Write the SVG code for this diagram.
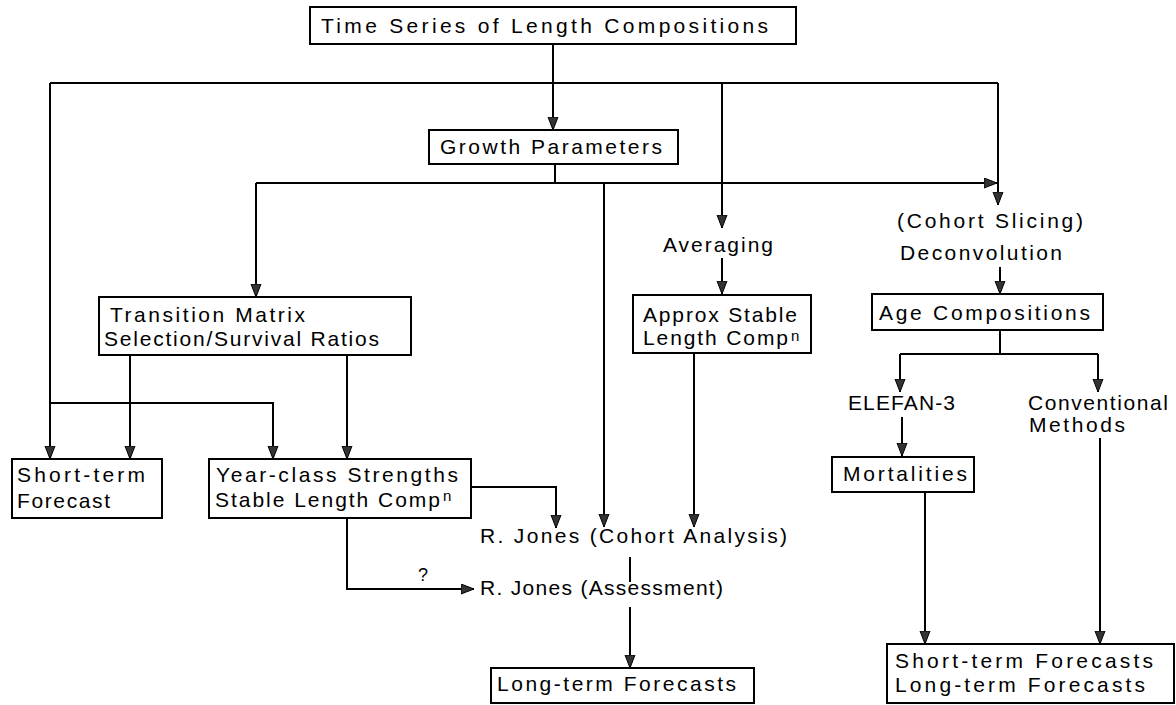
<svg xmlns="http://www.w3.org/2000/svg" width="1176" height="705" viewBox="0 0 1176 705">
<style>
.box{fill:#fff;stroke:#000;stroke-width:2}
.t{font-family:"Liberation Sans",Arial,sans-serif;font-size:21px;fill:#000}
.sup{font-family:"Liberation Sans",Arial,sans-serif;font-size:15px;fill:#000}
.q{font-family:"Liberation Sans",Arial,sans-serif;font-size:18px;fill:#000}
.c{fill:none;stroke:#000;stroke-width:2}
.a{marker-end:url(#ah)}
</style>
<defs>
<marker id="ah" markerUnits="userSpaceOnUse" markerWidth="14" markerHeight="12" refX="13" refY="5.5" orient="auto">
<path d="M0,0.5 L13,5.5 L0,10.5 z" fill="#333" stroke="#000" stroke-width="1"/>
</marker>
</defs>
<rect width="1176" height="705" fill="#fff"/>
<g id="connectors">
<path class="c a" d="M553,44 V130"/>
<path class="c a" d="M50,83 V459"/>
<path class="c" d="M50,83 H998"/>
<path class="c a" d="M998,83 V205"/>
<path class="c a" d="M722,83 V228"/>
<path class="c" d="M555,164 V183"/>
<path class="c a" d="M256,183 V297"/>
<path class="c" d="M256,183 H555"/>
<path class="c a" d="M555,183 H997"/>
<path class="c a" d="M604,183 V527"/>
<path class="c a" d="M130,355 V459"/>
<path class="c a" d="M347,355 V459"/>
<path class="c a" d="M50,403 H273 V459"/>
<path class="c a" d="M471,487 H556 V528"/>
<path class="c a" d="M347,518 V589 H474"/>
<path class="c" d="M630,557 V582"/>
<path class="c a" d="M630,607 V668"/>
<path class="c a" d="M722,258 V294"/>
<path class="c a" d="M694,353 V527"/>
<path class="c a" d="M1000,267 V294"/>
<path class="c" d="M1000,330 V354 M900,354 H1098"/>
<path class="c a" d="M900,354 V392"/>
<path class="c a" d="M1098,354 V392"/>
<path class="c a" d="M902,417 V456"/>
<path class="c a" d="M925,492 V644"/>
<path class="c a" d="M1100,438 V644"/>
<text class="q" x="423" y="581" text-anchor="middle">?</text>
</g>
<g id="time-series">
<rect class="box" x="310" y="7" width="486" height="37"/>
<text class="t" x="321" y="33" textLength="447" lengthAdjust="spacing">Time Series of Length Compositions</text>
</g>
<g id="growth-parameters">
<rect class="box" x="429" y="130" width="249" height="34"/>
<text class="t" x="440" y="154" textLength="222" lengthAdjust="spacing">Growth Parameters</text>
</g>
<g id="transition-matrix">
<rect class="box" x="99" y="297" width="312" height="58"/>
<text class="t" x="110" y="322" textLength="195" lengthAdjust="spacing">Transition Matrix</text>
<text class="t" x="104" y="346" textLength="275" lengthAdjust="spacing">Selection/Survival Ratios</text>
</g>
<g id="averaging">
<text class="t" x="663" y="252" textLength="110" lengthAdjust="spacing">Averaging</text>
</g>
<g id="approx-stable">
<rect class="box" x="633" y="295" width="178" height="58"/>
<text class="t" x="643" y="322" textLength="154" lengthAdjust="spacing">Approx Stable</text>
<text class="t" x="643" y="345" textLength="145" lengthAdjust="spacing">Length Comp</text>
<text class="sup" x="791" y="341">n</text>
</g>
<g id="deconvolution">
<text class="t" x="897" y="228" textLength="186" lengthAdjust="spacing">(Cohort Slicing)</text>
<text class="t" x="900" y="260" textLength="162" lengthAdjust="spacing">Deconvolution</text>
</g>
<g id="age-compositions">
<rect class="box" x="872" y="294" width="231" height="36"/>
<text class="t" x="879" y="320" textLength="211" lengthAdjust="spacing">Age Compositions</text>
</g>
<g id="elefan">
<text class="t" x="848" y="410" textLength="107" lengthAdjust="spacing">ELEFAN-3</text>
</g>
<g id="conventional">
<text class="t" x="1028" y="410" textLength="140" lengthAdjust="spacing">Conventional</text>
<text class="t" x="1029" y="432" textLength="96" lengthAdjust="spacing">Methods</text>
</g>
<g id="mortalities">
<rect class="box" x="832" y="457" width="142" height="35"/>
<text class="t" x="843" y="481" textLength="124" lengthAdjust="spacing">Mortalities</text>
</g>
<g id="short-term">
<rect class="box" x="12" y="459" width="150" height="59"/>
<text class="t" x="17" y="482" textLength="128" lengthAdjust="spacing">Short-term</text>
<text class="t" x="17" y="508" textLength="93" lengthAdjust="spacing">Forecast</text>
</g>
<g id="year-class">
<rect class="box" x="209" y="459" width="262" height="59"/>
<text class="t" x="216" y="482" textLength="242" lengthAdjust="spacing">Year-class Strengths</text>
<text class="t" x="215" y="507" textLength="225" lengthAdjust="spacing">Stable Length Comp</text>
<text class="sup" x="443" y="501">n</text>
</g>
<g id="cohort-analysis">
<text class="t" x="480" y="543" textLength="307" lengthAdjust="spacing">R. Jones (Cohort Analysis)</text>
</g>
<g id="assessment">
<text class="t" x="480" y="595" textLength="243" lengthAdjust="spacing">R. Jones (Assessment)</text>
</g>
<g id="long-term">
<rect class="box" x="491" y="668" width="263" height="35"/>
<text class="t" x="497" y="691" textLength="239" lengthAdjust="spacing">Long-term Forecasts</text>
</g>
<g id="forecasts">
<rect class="box" x="887" y="644" width="287" height="59"/>
<text class="t" x="895" y="668" textLength="258" lengthAdjust="spacing">Short-term Forecasts</text>
<text class="t" x="895" y="692" textLength="250" lengthAdjust="spacing">Long-term Forecasts</text>
</g>
</svg>
